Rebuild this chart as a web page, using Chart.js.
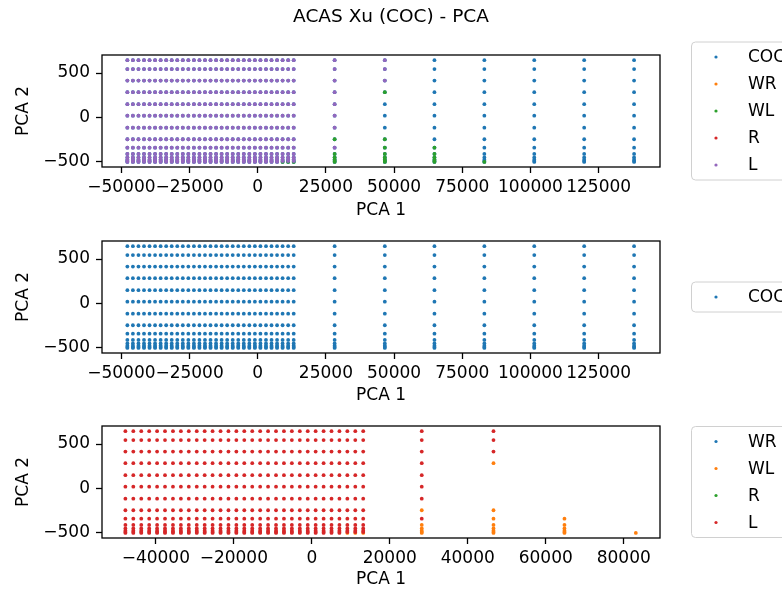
<!DOCTYPE html>
<html>
<head>
<meta charset="utf-8">
<script src="https://cdn.jsdelivr.net/npm/chart.js@4.4.1/dist/chart.umd.min.js"></script>
<style>
html, body { margin: 0; padding: 0; background: #fff; overflow: hidden; }
canvas { position: absolute; left: 0; top: 0; }
</style>
</head>
<body>
<canvas id="c1" width="782" height="590"></canvas>
<canvas id="c2" width="782" height="590"></canvas>
<canvas id="c3" width="782" height="590"></canvas>
<script>
// tick labels
var xTicksWide = [-50000, -25000, 0, 25000, 50000, 75000, 100000, 125000];
var xTicksNarrow = [-40000, -20000, 0, 20000, 40000, 60000, 80000];
var yTicks = [-500, 0, 500];

// PCA 1 positions of the dense block and of the far columns
var blockX = [-47800, -45770, -43730, -41700, -39670, -37640, -35600, -33570, -31540, -29500,
  -27470, -25440, -23400, -21370, -19340, -17310, -15270, -13240, -11210, -9170,
  -7140, -5110, -3070, -1040, 990, 3030, 5060, 7090, 9120, 11160, 13190];
var farX = [28200, 46600, 64800, 83100, 101400, 119700, 138000];
// PCA 2 rows
var rowY = [645, 545, 415, 285, 150, 20, -115, -245, -340, -410, -450, -475, -490, -500];

// WL points (everything else in the block is L)
var wlPoints = [
  [9120, -500], [11160, -500], [13190, -500],
  [28200, -245], [28200, -410], [28200, -450], [28200, -475], [28200, -490], [28200, -500],
  [46600, 285], [46600, -245], [46600, -340], [46600, -410], [46600, -450], [46600, -475], [46600, -490], [46600, -500],
  [64800, -340], [64800, -410], [64800, -450], [64800, -475], [64800, -490], [64800, -500],
  [83100, -500]
];
// L points in the far columns
var lFarPoints = [
  [28200, 645], [28200, 545], [28200, 415], [28200, 285], [28200, 150], [28200, 20], [28200, -115], [28200, -340],
  [46600, 645], [46600, 545], [46600, 415]
];
// WR and R are hidden under the other classes, nothing visible
var wrPoints = [];
var rPoints = [];

var tab10 = ['#1f77b4', '#ff7f0e', '#2ca02c', '#d62728', '#9467bd'];

function toXY(list) {
  return list.map(function (p) { return { x: p[0], y: p[1] }; });
}

// COC sits on every grid position
var cocData = [];
blockX.concat(farX).forEach(function (x) {
  rowY.forEach(function (y) { cocData.push({ x: x, y: y }); });
});

var wlKeys = wlPoints.map(function (p) { return p[0] + ',' + p[1]; });
var lData = [];
blockX.forEach(function (x) {
  rowY.forEach(function (y) {
    if (wlKeys.indexOf(x + ',' + y) < 0) lData.push({ x: x, y: y });
  });
});
lData = lData.concat(toXY(lFarPoints));

function ds(label, data, color, order) {
  return {
    label: label, data: data, order: order,
    backgroundColor: color, borderColor: color,
    pointRadius: 1.9, pointHoverRadius: 1.9, borderWidth: 0
  };
}

function fmt(v) {
  return v < 0 ? '\u2212' + Math.abs(v) : String(v);
}

Chart.defaults.font.family = "'DejaVu Sans', sans-serif";
Chart.defaults.color = '#000';

// frame around plot, figure title, legend box at right
var framePlugin = {
  id: 'frame',
  afterDraw: function (chart, args, opts) {
    var ctx = chart.ctx, a = chart.chartArea;
    ctx.save();
    ctx.strokeStyle = '#000';
    ctx.lineWidth = 1.3;
    ctx.strokeRect(a.left, a.top, a.right - a.left, a.bottom - a.top);

    if (opts.title) {
      ctx.font = "18.5px 'DejaVu Sans'";
      ctx.textAlign = 'center';
      ctx.textBaseline = 'middle';
      ctx.fillStyle = '#000';
      ctx.fillText(opts.title, 391, 17);
    }

    var sets = chart.data.datasets;
    var n = sets.length;
    var step = 27;
    var h = 3 + step * n;
    var cy = (a.top + a.bottom) / 2;
    var top = cy - h / 2;
    ctx.beginPath();
    ctx.roundRect(691.5, top, 200, h, 4);
    ctx.fillStyle = 'rgba(255,255,255,0.8)';
    ctx.fill();
    ctx.strokeStyle = '#d0d0d0';
    ctx.lineWidth = 1;
    ctx.stroke();
    ctx.font = "17px 'DejaVu Sans'";
    ctx.textBaseline = 'middle';
    ctx.textAlign = 'left';
    for (var i = 0; i < n; i++) {
      var y = cy + (i - (n - 1) / 2) * step;
      ctx.beginPath();
      ctx.arc(716, y, 1.6, 0, Math.PI * 2);
      ctx.fillStyle = sets[i].backgroundColor;
      ctx.fill();
      ctx.fillStyle = '#000';
      ctx.fillText(sets[i].label, 748, y + 1);
    }
    ctx.restore();
  }
};

function makeChart(id, datasets, cfg) {
  return new Chart(document.getElementById(id), {
    type: 'scatter',
    data: { datasets: datasets },
    plugins: [framePlugin],
    options: {
      responsive: false,
      animation: false,
      devicePixelRatio: 1,
      layout: {
        padding: { left: 9, right: 122, top: cfg.top, bottom: 590 - (cfg.xTitleY + 10.2) }
      },
      plugins: {
        legend: { display: false },
        tooltip: { enabled: false },
        frame: { title: cfg.title || '' }
      },
      scales: {
        x: {
          type: 'linear',
          min: cfg.xMin, max: cfg.xMax,
          afterBuildTicks: function (s) { s.ticks = cfg.xTicks.map(function (v) { return { value: v }; }); },
          afterFit: function (s) { s.height = cfg.xTitleY + 10.2 - cfg.bottom; },
          grid: { drawOnChartArea: false, drawTicks: true, tickLength: 6, tickWidth: 1.3, tickColor: '#000' },
          border: { display: false },
          ticks: { autoSkip: false, maxRotation: 0, minRotation: 0, padding: 4, font: { size: 17 }, color: '#000',
            callback: function (v) { return fmt(v); } },
          title: { display: true, text: 'PCA 1', font: { size: 17 }, color: '#000', padding: { top: 0, bottom: 0 } }
        },
        y: {
          type: 'linear',
          min: -557, max: 703,
          afterBuildTicks: function (s) { s.ticks = yTicks.map(function (v) { return { value: v }; }); },
          afterFit: function (s) { s.width = 93; },
          grid: { drawOnChartArea: false, drawTicks: true, tickLength: 6, tickWidth: 1.3, tickColor: '#000' },
          border: { display: false },
          ticks: { padding: 6, font: { size: 17 }, color: '#000', callback: function (v) { return fmt(v); } },
          title: { display: true, text: 'PCA 2', font: { size: 17 }, color: '#000', padding: { top: 4, bottom: 0 } }
        }
      }
    }
  });
}

// all classes
makeChart('c1', [
  ds('COC', cocData, tab10[0], 5),
  ds('WR', toXY(wrPoints), tab10[1], 4),
  ds('WL', toXY(wlPoints), tab10[2], 3),
  ds('R', toXY(rPoints), tab10[3], 2),
  ds('L', lData, tab10[4], 1)
], { title: 'ACAS Xu (COC) - PCA', top: 55, bottom: 167, xTitleY: 211,
     xMin: -57100, xMax: 147500, xTicks: xTicksWide });

// COC only
makeChart('c2', [
  ds('COC', cocData, tab10[0], 1)
], { top: 241, bottom: 353, xTitleY: 396,
     xMin: -57100, xMax: 147500, xTicks: xTicksWide });

// advisories other than COC
makeChart('c3', [
  ds('WR', toXY(wrPoints), tab10[0], 4),
  ds('WL', toXY(wlPoints), tab10[1], 3),
  ds('R', toXY(rPoints), tab10[2], 2),
  ds('L', lData, tab10[3], 1)
], { top: 426, bottom: 538, xTitleY: 580,
     xMin: -53800, xMax: 89300, xTicks: xTicksNarrow });
</script>
</body>
</html>
